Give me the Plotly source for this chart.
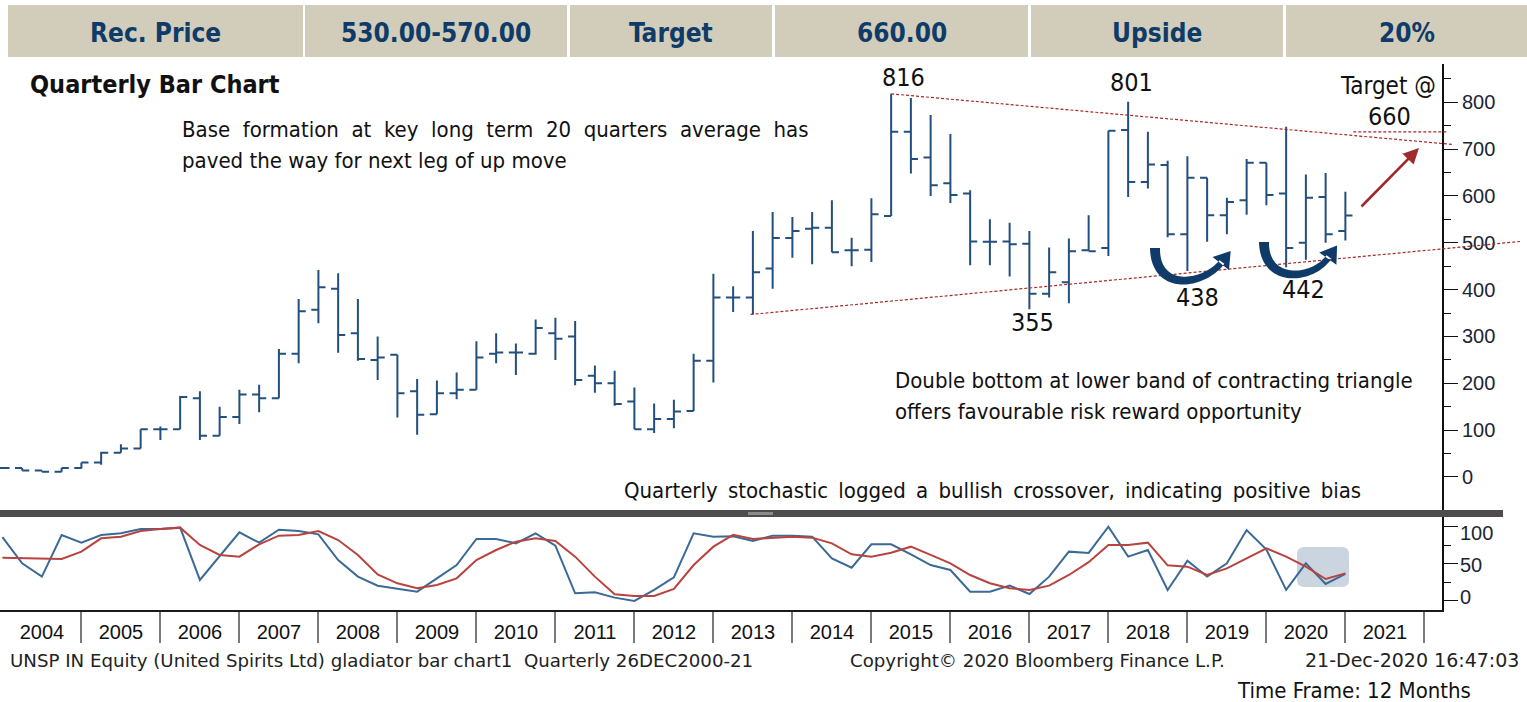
import math
import plotly.graph_objects as go

W, H = 1527, 702

# ---------------- data ----------------
quarters = [f"{y}Q{q}" for y in range(2003, 2021) for q in range(1, 5)][3:]  # 2003Q4 .. 2020Q4
opens = [19, 19, 14, 11, 19, 31, 52, 61, 102, 102, 168, 88, 128, 176, 168, 263, 357, 402, 307, 250,
         261, 183, 134, 179, 186, 263, 266, 263, 307, 300, 216, 200, 161, 102, 124, 141, 248, 383, 383, 445,
         510, 530, 532, 484, 485, 557, 737, 682, 627, 605, 502, 503, 498, 391, 416, 484, 489, 741, 630, 666,
         518, 639, 559, 591, 671, 605, 500, 598, 525]
highs = [20, 19, 14, 19, 31, 54, 70, 102, 108, 173, 183, 150, 186, 197, 273, 380, 442, 435, 380, 300,
         261, 209, 206, 223, 290, 307, 285, 336, 340, 333, 238, 227, 191, 157, 165, 263, 434, 407, 525, 566,
         555, 566, 591, 511, 595, 818, 809, 773, 732, 612, 550, 543, 525, 490, 509, 559, 739, 801, 737, 675,
         685, 639, 596, 679, 671, 748, 646, 649, 609]
lows = [17, 14, 11, 11, 18, 26, 52, 61, 79, 102, 79, 88, 113, 138, 168, 243, 328, 265, 248, 207,
        127, 90, 134, 166, 186, 243, 218, 261, 250, 196, 180, 152, 102, 94, 104, 141, 202, 352, 347, 402,
        468, 454, 480, 450, 459, 557, 648, 600, 585, 452, 452, 428, 358, 383, 371, 482, 472, 598, 616, 512,
        440, 502, 518, 560, 580, 448, 464, 500, 505]
closes = [19, 14, 11, 19, 31, 52, 61, 102, 102, 171, 88, 128, 176, 168, 263, 354, 405, 303, 252, 255,
          179, 133, 179, 186, 255, 266, 266, 318, 295, 207, 200, 156, 102, 124, 140, 248, 383, 383, 437, 510,
          525, 532, 480, 484, 561, 737, 679, 623, 602, 503, 502, 497, 391, 437, 482, 482, 739, 630, 667, 518,
          639, 559, 587, 671, 602, 489, 596, 518, 558]
stoch_k = [86, 50.5, 32.5, 88.8, 78.4, 88.8, 91, 96.9, 96.9, 98.7, 28, 59.5, 92.4, 78.4, 96, 94.2, 89.7, 55, 32.5, 20.3,
           15.8, 12.2, 30.2, 48.2, 83.4, 83.4, 77.5, 91, 74.4, 10, 11.3, 4.1, -0.4, 14.5, 31.6, 91, 86.5, 87, 80.7, 87.9,
           87.9, 86.5, 57.2, 44.6, 76.2, 76.2, 62.7, 48.2, 41.5, 12.2, 12.2, 20.3, 9.0, 32.5, 66.3, 64.5, 100, 59.5, 68.5, 14.5,
           54.1, 32.5, 50.5, 95.5, 69, 14.5, 50.5, 22.6, 36.1]
stoch_d = [58.1, 57.5, 56.3, 56.3, 66.3, 84.3, 86.5, 94.2, 96.9, 98.7, 75.3, 61.8, 59.5, 76.2, 87.9, 88.8, 94.2, 82, 61.8, 35.6,
           23.5, 16.7, 21.3, 30.2, 55, 68.5, 79.8, 84.3, 80.7, 59.5, 32.5, 8.6, 6.4, 6.4, 15.8, 48.2, 73, 89, 83.4, 85.2,
           86.5, 85.2, 77.5, 62.7, 59.5, 64.9, 73, 61.8, 50.5, 34.7, 23.5, 16.7, 14.5, 20.3, 34.7, 52, 75.3, 75.3, 78.4, 47.8,
           46, 34.7, 43.7, 57.2, 70.8, 59.5, 46, 29.3, 36.9]
years = list(range(2004, 2022))
price_ticks = [0, 100, 200, 300, 400, 500, 600, 700, 800]
stoch_ticks = [0, 50, 100]
header = ["Rec. Price", "530.00-570.00", "Target", "660.00", "Upside", "20%"]

# quarter-end position in decimal years
xq = [int(q[:4]) + int(q[-1]) / 4 for q in quarters]

# ---------------- layout geometry ----------------
XD = (0.0, 1442 / W)
XR = (2003.9696, 2022.223)
YD_P = (1 - 511 / H, 1 - 64 / H)
YR_P = (-72.6, 881.7)
YD_S = (1 - 610 / H, 1 - 517 / H)
YR_S = (-12.6, 113.1)

BAR = "#234f7d"
NAVY = "#0f3b69"
RED = "#a52a2a"
COND = "DejaVu Sans Condensed, Roboto, sans-serif"
SANS = "Liberation Sans, Arial, sans-serif"
WIDE = "DejaVu Sans, Verdana, sans-serif"


def px(x):
    return x / W


def py(y):
    return 1 - y / H


def xpix(xv):
    return XD[0] * W + (xv - XR[0]) / (XR[1] - XR[0]) * (XD[1] - XD[0]) * W


def ypix_price(p):
    top, bot = (1 - YD_P[1]) * H, (1 - YD_P[0]) * H
    return bot - (p - YR_P[0]) / (YR_P[1] - YR_P[0]) * (bot - top)


def path_from(points):
    return "M " + " L ".join(f"{px(x):.5f},{py(y):.5f}" for x, y in points) + " Z"


def curved_arrow(p0, p1, p2, p3, w0, w1, head_len, head_w):
    left, right = [], []
    N = 40
    for i in range(N + 1):
        t = i / N
        mt = 1 - t
        x = mt**3 * p0[0] + 3 * mt**2 * t * p1[0] + 3 * mt * t**2 * p2[0] + t**3 * p3[0]
        y = mt**3 * p0[1] + 3 * mt**2 * t * p1[1] + 3 * mt * t**2 * p2[1] + t**3 * p3[1]
        dx = 3 * mt**2 * (p1[0] - p0[0]) + 6 * mt * t * (p2[0] - p1[0]) + 3 * t**2 * (p3[0] - p2[0])
        dy = 3 * mt**2 * (p1[1] - p0[1]) + 6 * mt * t * (p2[1] - p1[1]) + 3 * t**2 * (p3[1] - p2[1])
        L = math.hypot(dx, dy) or 1
        nx, ny = -dy / L, dx / L
        w = (w0 + (w1 - w0) * t) / 2
        left.append((x + nx * w, y + ny * w))
        right.append((x - nx * w, y - ny * w))
    body = path_from(left + right[::-1])
    ux, uy = p3[0] - p2[0], p3[1] - p2[1]
    L = math.hypot(ux, uy)
    ux, uy = ux / L, uy / L
    nx, ny = -uy, ux
    b0 = (p3[0] - ux * 2, p3[1] - uy * 2)
    head = path_from([(b0[0] + nx * head_w / 2, b0[1] + ny * head_w / 2),
                      (p3[0] + ux * head_len, p3[1] + uy * head_len),
                      (b0[0] - nx * head_w / 2, b0[1] - ny * head_w / 2)])
    return body + " " + head


def line_pts(xa, pa, xb, pb, x_end_px):
    # line through two data points, extended to a pixel x
    x1, y1 = xpix(xa), ypix_price(pa)
    x2, y2 = xpix(xb), ypix_price(pb)
    s = (y2 - y1) / (x2 - x1)
    return x1, y1, x_end_px, y1 + s * (x_end_px - x1)


fig = go.Figure()

fig.add_trace(go.Ohlc(
    x=xq, open=opens, high=highs, low=lows, close=closes,
    increasing=dict(line=dict(color=BAR, width=2)),
    decreasing=dict(line=dict(color=BAR, width=2)),
    tickwidth=0.36, xaxis="x", yaxis="y", hoverinfo="skip", showlegend=False))

fig.add_trace(go.Scatter(x=xq, y=stoch_k, mode="lines", line=dict(color="#3b6a96", width=2),
                         xaxis="x", yaxis="y2", hoverinfo="skip"))
fig.add_trace(go.Scatter(x=xq, y=stoch_d, mode="lines", line=dict(color="#b8433f", width=2),
                         xaxis="x", yaxis="y2", hoverinfo="skip"))

# triangle tick markers on the right axis
xm = XR[1] + 6.5 * (XR[1] - XR[0]) / ((XD[1] - XD[0]) * W)
fig.add_trace(go.Scatter(x=[xm] * len(price_ticks), y=price_ticks, mode="markers",
                         marker=dict(symbol="triangle-right", size=11, color="#111"),
                         cliponaxis=False, xaxis="x", yaxis="y", hoverinfo="skip"))
fig.add_trace(go.Scatter(x=[xm] * len(stoch_ticks), y=stoch_ticks, mode="markers",
                         marker=dict(symbol="triangle-right", size=11, color="#111"),
                         cliponaxis=False, xaxis="x", yaxis="y2", hoverinfo="skip"))

shapes = []
annotations = []

# header cells
cells = [(8, 303), (305, 567), (570, 772), (775, 1028), (1031, 1283), (1286, 1527)]
for (x0, x1), label in zip(cells, header):
    shapes.append(dict(type="rect", xref="paper", yref="paper", x0=px(x0), x1=px(x1), y0=py(57), y1=py(5),
                       fillcolor="#d2cdba", line=dict(width=0), layer="above"))
    annotations.append(dict(xref="paper", yref="paper", x=px((x0 + x1) / 2), y=py(33), text=f"<b>{label}</b>",
                            showarrow=False, xanchor="center", yanchor="middle",
                            font=dict(family=COND, size=26, color=NAVY)))

# separator band between panels
shapes.append(dict(type="rect", xref="paper", yref="paper", x0=px(0), x1=px(1503), y0=py(517), y1=py(510),
                   fillcolor="#4d4d4d", line=dict(width=0), layer="above"))
shapes.append(dict(type="rect", xref="paper", yref="paper", x0=px(748), x1=px(773), y0=py(515), y1=py(512),
                   fillcolor="#8a8a8a", line=dict(width=0), layer="above"))

# trend lines
x1, y1, x2, y2 = line_pts(xq[45], highs[45], XR[1], 712, 1452)
shapes.append(dict(type="line", xref="paper", yref="paper", x0=px(x1), y0=py(y1), x1=px(x2), y1=py(y2),
                   line=dict(color=RED, width=1.2, dash="3px,2px")))
x1, y1, x2, y2 = line_pts(xq[38] - 0.03, lows[38], XR[1], 487, 1522)
shapes.append(dict(type="line", xref="paper", yref="paper", x0=px(x1), y0=py(y1), x1=px(x2), y1=py(y2),
                   line=dict(color=RED, width=1.2, dash="3px,2px")))
yt = ypix_price(737)
shapes.append(dict(type="line", xref="paper", yref="paper", x0=px(xpix(2021.1)), y0=py(yt),
                   x1=px(xpix(XR[1]) + 6), y1=py(yt), line=dict(color=RED, width=1.2, dash="3px,2px")))

# curved blue arrows (double bottom)
shapes.append(dict(type="path", xref="paper", yref="paper",
                   path=curved_arrow((1155, 248), (1155, 292), (1203, 286), (1222, 262), 10, 6, 14, 21),
                   fillcolor=NAVY, line=dict(width=0)))
shapes.append(dict(type="path", xref="paper", yref="paper",
                   path=curved_arrow((1264, 242), (1264, 284), (1312, 281), (1329, 257), 10, 6, 14, 21),
                   fillcolor=NAVY, line=dict(width=0)))

# highlight box in stochastic
bx0, by0, bx1, by1, r = 1297, 547, 1349, 587, 7
rr = (f"M {px(bx0 + r):.5f},{py(by0):.5f} L {px(bx1 - r):.5f},{py(by0):.5f} "
      f"Q {px(bx1):.5f},{py(by0):.5f} {px(bx1):.5f},{py(by0 + r):.5f} L {px(bx1):.5f},{py(by1 - r):.5f} "
      f"Q {px(bx1):.5f},{py(by1):.5f} {px(bx1 - r):.5f},{py(by1):.5f} L {px(bx0 + r):.5f},{py(by1):.5f} "
      f"Q {px(bx0):.5f},{py(by1):.5f} {px(bx0):.5f},{py(by1 - r):.5f} L {px(bx0):.5f},{py(by0 + r):.5f} "
      f"Q {px(bx0):.5f},{py(by0):.5f} {px(bx0 + r):.5f},{py(by0):.5f} Z")
shapes.append(dict(type="path", xref="paper", yref="paper", path=rr, fillcolor="#cbd5df",
                   line=dict(width=0), layer="below"))

# red target arrow
annotations.append(dict(xref="paper", yref="paper", x=px(1419), y=py(148), ax=-59, ay=60, text="",
                        showarrow=True, arrowhead=2, arrowsize=1.2, arrowwidth=2.6, arrowcolor="#9e2a2b",
                        standoff=0, startstandoff=0))


def txt(x, y, s, size, anchor="left", bold=False, family=COND, color="#111"):
    annotations.append(dict(xref="paper", yref="paper", x=px(x), y=py(y), text=(f"<b>{s}</b>" if bold else s),
                            showarrow=False, xanchor=anchor, yanchor="middle",
                            font=dict(family=family, size=size, color=color)))


def spread(s, extra):
    return s.replace(" ", " " + extra)


txt(28, 85, "Quarterly Bar Chart", 25, bold=True)
txt(180, 130, spread("Base formation at key long term 20 quarters average has", "\u00a0"), 22)
txt(180, 160, "paved the way for next leg of up move", 22)
txt(893, 381, "Double bottom at lower band of contracting triangle", 22)
txt(893, 411, "offers favourable risk reward opportunity", 22)
txt(622, 490, spread("Quarterly stochastic logged a bullish crossover, indicating positive bias", "\u2009"), 22)
txt(903, 77, "816", 25, "center")
txt(1131, 83, "801", 25, "center")
txt(1032, 322, "355", 25, "center")
txt(1197, 297, "438", 25, "center")
txt(1303, 290, "442", 25, "center")
txt(1388, 86, "Target @", 24, "center")
txt(1389, 117, "660", 25, "center")
txt(8, 660, "UNSP IN Equity (United Spirits Ltd) gladiator bar chart1  Quarterly 26DEC2000-21", 18.2, family=WIDE, color="#222")
txt(848, 660, "Copyright\u00a9 2020 Bloomberg Finance L.P.", 18.2, family=WIDE, color="#222")
txt(1303, 660, "21-Dec-2020 16:47:03", 19, family=WIDE, color="#222")
txt(1235, 690, "Time Frame: 12 Months", 22)
# stochastic axis labels (Bloomberg places them slightly compressed)
for v, yy in zip(stoch_ticks, [597, 565, 533]):
    txt(1458, yy, str(v), 20, family=SANS, color="#1b2533")

fig.update_layout(
    width=W, height=H, margin=dict(l=0, r=0, t=0, b=0),
    paper_bgcolor="white", plot_bgcolor="white", showlegend=False,
    shapes=shapes, annotations=annotations,
    xaxis=dict(domain=list(XD), range=list(XR), anchor="y2", rangeslider=dict(visible=False),
               showgrid=False, zeroline=False, showline=True, linecolor="#1a1a1a", linewidth=2,
               tickvals=[y + 0.5 for y in years], ticktext=[str(y) for y in years],
               ticks="outside", ticklen=3, tickcolor="rgba(0,0,0,0)",
               tickfont=dict(family=SANS, size=20, color="#111"),
               minor=dict(tickvals=list(range(2005, 2023)), ticks="outside", ticklen=31,
                          tickcolor="#7a7a7a", tickwidth=1.5, showgrid=False)),
    yaxis=dict(domain=list(YD_P), range=list(YR_P), anchor="x", side="right",
               showgrid=False, zeroline=False, showline=True, linecolor="#111", linewidth=2,
               tickvals=price_ticks, ticks="outside", ticklen=14, tickcolor="#111", tickwidth=1,
               tickfont=dict(family=SANS, size=20, color="#1b2533"),
               minor=dict(tickvals=[50, 150, 250, 350, 450, 550, 650, 750, 850], ticks="outside",
                          ticklen=7, tickcolor="#111", tickwidth=1, showgrid=False)),
    yaxis2=dict(domain=list(YD_S), range=list(YR_S), anchor="x", side="right",
                showgrid=False, zeroline=False, showline=True, linecolor="#111", linewidth=2,
                tickvals=stoch_ticks, showticklabels=False, ticks="outside", ticklen=14,
                tickcolor="#111", tickwidth=1,
                minor=dict(tickvals=[25, 75], ticks="outside", ticklen=7, tickcolor="#111",
                           tickwidth=1, showgrid=False)),
)

fig.write_html("out.html", config={"displayModeBar": False},
               post_script="document.body.style.margin='0';")
